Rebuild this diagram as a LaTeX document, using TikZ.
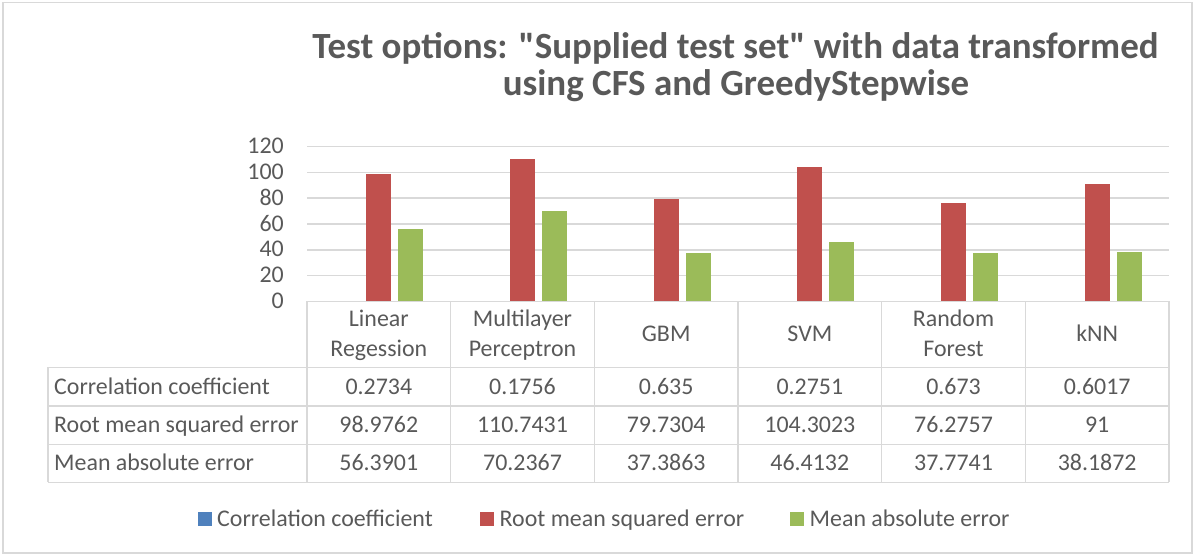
\documentclass[tikz,border=0pt]{standalone}
\usepackage{fontspec}
\setmainfont{Carlito}[Ligatures=TeXOff]
\definecolor{txt}{HTML}{595959}
\definecolor{gridc}{HTML}{D9D9D9}
\definecolor{serA}{HTML}{4F81BD}
\definecolor{serB}{HTML}{C0504D}
\definecolor{serC}{HTML}{9BBB59}
\begin{document}
\begin{tikzpicture}[x=1bp,y=-1bp,
  lbl/.style={font=\fontsize{24}{29}\selectfont, text=txt, inner sep=0pt},
  ttl/.style={font=\fontsize{37.1}{42}\selectfont\bfseries, text=txt, inner sep=0pt},
  rule/.style={draw=gridc, line width=1.6bp}
]
\useasboundingbox (0,0) rectangle (1197,556);
% chart frame
\draw[draw=gridc, line width=1.4bp] (3,2.5) rectangle (1192,553);

% title
\node[ttl, anchor=base] (title1) at (735.5,59) {Test options: "Supplied test set" with data transformed};
\node[ttl, anchor=base] (title2) at (736,95.5) {using CFS and GreedyStepwise};

% correlation bars are tiny, so draw them first and let the axis line cover them
\foreach \c [count=\k from 0] in {0.2734,0.1756,0.635,0.2751,0.673,0.6017} {
  \pgfmathsetmacro\xc{378.83+143.67*\k}
  \fill[serA] (\xc-44.5,301.5) rectangle (\xc-19.5,301.5-1.29*\c);
}

% value gridlines and axis labels
\foreach \v [count=\n from 0] in {0,20,40,60,80,100,120} {
  \draw[rule] (307,301.5-1.29*\v) -- (1169,301.5-1.29*\v);
  \node[lbl, anchor=base east] (tick\n) at (284,308.5-1.29*\v) {\v};
}

% RMSE / MAE bars and table values per learner
\foreach \c/\rr/\mm [count=\k from 0] in
  {0.2734/98.9762/56.3901, 0.1756/110.7431/70.2367, 0.635/79.7304/37.3863,
   0.2751/104.3023/46.4132, 0.673/76.2757/37.7741, 0.6017/91/38.1872} {
  \pgfmathsetmacro\xc{378.83+143.67*\k}
  \fill[serB] (\xc-12.5,300.7) rectangle (\xc+12.5,301.5-1.29*\rr);
  \fill[serC] (\xc+19.5,300.7) rectangle (\xc+44.5,301.5-1.29*\mm);
  \node[lbl, anchor=base] (corr\k) at (\xc,394.3) {\c};
  \node[lbl, anchor=base] (rmse\k) at (\xc,432.6) {\rr};
  \node[lbl, anchor=base] (mae\k) at (\xc,470.7) {\mm};
}

% data table grid
\draw[rule] (307,301.5) -- (307,482.3);
\draw[rule] (48,367.5) -- (48,482.3);
\foreach \xb in {450.67,594.33,738,881.67,1025.33,1169}
  \draw[rule] (\xb,301.5) -- (\xb,482.3);
\foreach \yb in {367.5,406,444.3,482.3}
  \draw[rule] (48,\yb) -- (1169,\yb);

% category headers
\node[lbl, anchor=base] (h0a) at (378.83,326.7) {Linear};
\node[lbl, anchor=base] (h0b) at (378.83,356.7) {Regession};
\node[lbl, anchor=base] (h1a) at (522.5,326.7) {Multilayer};
\node[lbl, anchor=base] (h1b) at (522.5,356.7) {Perceptron};
\node[lbl, anchor=base] (h2) at (666.17,342) {GBM};
\node[lbl, anchor=base] (h3) at (809.83,342) {SVM};
\node[lbl, anchor=base] (h4a) at (953.5,326.7) {Random};
\node[lbl, anchor=base] (h4b) at (953.5,356.7) {Forest};
\node[lbl, anchor=base] (h5) at (1097.17,342) {kNN};

% row labels
\node[lbl, anchor=base west] (r1) at (54,394.3) {Correlation coefficient};
\node[lbl, anchor=base west] (r2) at (54,432.6) {Root mean squared error};
\node[lbl, anchor=base west] (r3) at (54,470.7) {Mean absolute error};

% legend
\fill[serA] (198,512) rectangle (212,526);
\node[lbl, anchor=base west] (leg1) at (217,526) {Correlation coefficient};
\fill[serB] (480,512) rectangle (494,526);
\node[lbl, anchor=base west] (leg2) at (499.5,526) {Root mean squared error};
\fill[serC] (789.5,512) rectangle (803.5,526);
\node[lbl, anchor=base west] (leg3) at (809.5,526) {Mean absolute error};
\end{tikzpicture}
\end{document}
